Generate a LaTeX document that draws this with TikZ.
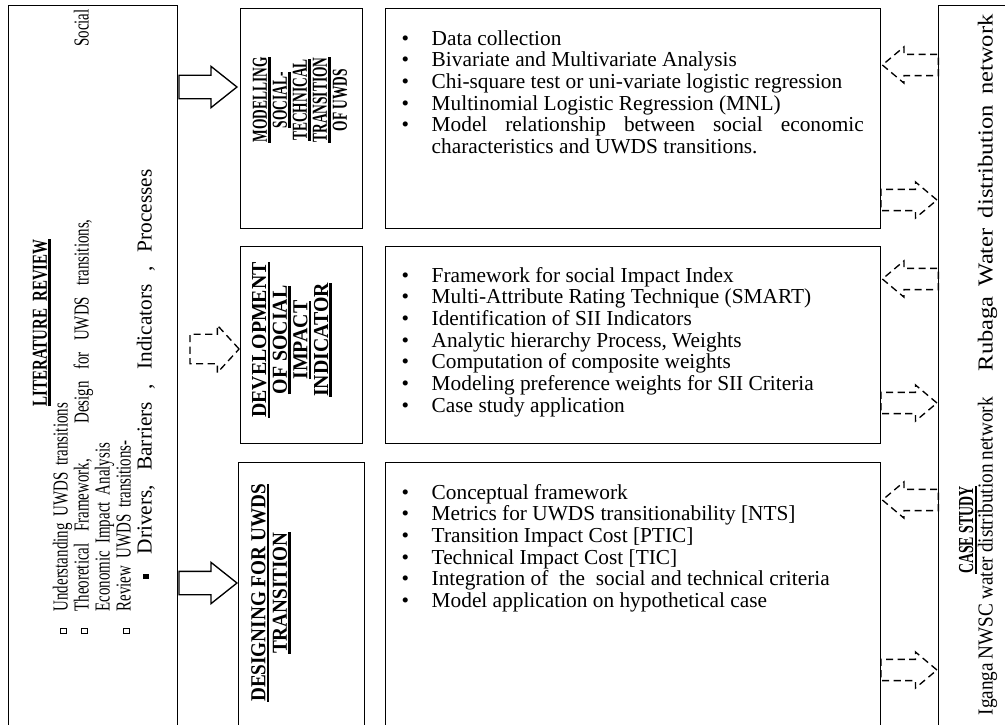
\documentclass[tikz,border=0pt]{standalone}
\usepackage{fontspec}
\setmainfont{Liberation Serif}
\newfontfamily\modfont[FakeStretch=0.63]{Liberation Serif}
\newfontfamily\devfont[FakeStretch=0.93]{Liberation Serif}
\newfontfamily\desfont[FakeStretch=0.9]{Liberation Serif}
\newfontfamily\litfont[FakeStretch=0.7]{Liberation Serif}
\newfontfamily\casefont[FakeStretch=0.9]{Liberation Serif}
\newfontfamily\rubfont[FakeStretch=1.15]{Liberation Serif}
\newfontfamily\ttlfont[FakeStretch=0.65]{Liberation Serif}
\usetikzlibrary{shapes.arrows}
\hyphenpenalty=10000
\exhyphenpenalty=10000

\newcommand\px{0.5625pt}
% heavy underline bar
\newcommand\ulbar[1]{\setbox0=\hbox{#1}\leavevmode\rlap{\rule[-2.2pt]{\wd0}{1.4pt}}\box0}
\newcommand\sqb{\raisebox{1pt}{\setlength\fboxsep{0pt}\setlength\fboxrule{0.5pt}\fbox{\rule{0pt}{2.6pt}\hspace{2.6pt}}}}
\newcommand\sqfill{\raisebox{1.6pt}{\rule{3pt}{3pt}}}
\newcommand\litem{\par\noindent\hangindent=16.9pt\hangafter=1\makebox[16.9pt][l]{\textbullet}\strut}

\begin{document}
\begin{tikzpicture}[x=0.5625pt, y=-0.5625pt, line width=0.75pt,
  boxframe/.style={draw, inner sep=0pt, anchor=north west},
  items/.style={anchor=north west, inner sep=0pt, text width=259.9pt, align=justify,
    font=\fontsize{12pt}{12.2pt}\selectfont},
  lbl/.style={rotate=90, inner sep=0pt, align=center},
  fatarrow/.style={single arrow, draw, inner xsep=0pt, inner ysep=6.19pt,
    single arrow head extend=5.06pt, minimum height=32.6pt, single arrow tip angle=77},
  dasharrow/.style={single arrow, draw, dash pattern=on 4pt off 2.5pt, inner xsep=0pt,
    inner ysep=5.6pt, single arrow head extend=4.2pt, minimum height=31.5pt,
    single arrow tip angle=80}]
\useasboundingbox (0,0) rectangle (1005,724);
\clip (0,0) rectangle (1005,724);

% boxes
\node[boxframe, minimum width=169*\px, minimum height=735*\px] (lit) at (8,5) {};
\node[boxframe, minimum width=122*\px, minimum height=220*\px] (modlbl) at (240,8) {};
\node[boxframe, minimum width=122*\px, minimum height=197*\px] (devlbl) at (240,246) {};
\node[boxframe, minimum width=126*\px, minimum height=280*\px] (deslbl) at (238,462) {};
\node[boxframe, minimum width=495*\px, minimum height=220*\px] (modlist) at (385,8) {};
\node[boxframe, minimum width=495*\px, minimum height=197*\px] (devlist) at (385,246) {};
\node[boxframe, minimum width=495*\px, minimum height=280*\px] (deslist) at (385,462) {};
\node[boxframe, minimum width=80*\px, minimum height=735*\px] (case) at (938,5) {};

% literature review
\node[rotate=90, anchor=north west, inner sep=0pt, text width=356pt,
  font=\fontsize{12pt}{11.8pt}\litfont] (littxt) at (32,640) {%
  {\centering\bfseries\ulbar{LITERATURE REVIEW}\par}
  \hspace*{3pt}\makebox[12.75pt][l]{\sqb}Understanding UWDS transitions\par
  \hspace*{3pt}\makebox[12.75pt][l]{\sqb}\hbox to 338.6pt{Theoretical\hspace{6.5pt}Framework,\hspace{20pt}Design\hspace{6.5pt}for\hspace{6.5pt}UWDS\hspace{6.5pt}transitions,\hfil Social}\par
  \hspace*{15.75pt}Economic Impact Analysis\par
  \hspace*{3pt}\makebox[12.75pt][l]{\sqb}Review UWDS transitions-\par
  \hspace*{34pt}\makebox[13.8pt][l]{\sqfill}\hbox to 216.6pt{\rmfamily\spaceskip=0pt Drivers, Barriers , Indicators , Processes}\par};

% stage titles
\node[lbl, font=\fontsize{12pt}{11.25pt}\modfont\bfseries] (modtxt) at (300,100)
  {\ulbar{MODELLING}\\\ulbar{SOCIAL-}\\\ulbar{TECHNICAL}\\\ulbar{TRANSITION}\\OF UWDS};
\node[lbl, font=\fontsize{12pt}{11.6pt}\devfont\bfseries] (devtxt) at (292,340)
  {\ulbar{DEVELOPMENT}\\\ulbar{OF SOCIAL}\\\ulbar{IMPACT}\\\ulbar{INDICATOR}};
\node[lbl, font=\fontsize{12pt}{12pt}\desfont\bfseries] (destxt) at (271,593)
  {\ulbar{DESIGNING FOR UWDS}\\\ulbar{TRANSITION}};

% stage contents
\node[items] (modpts) at (401,22.8) {%
  \litem Data collection
  \litem Bivariate and Multivariate Analysis
  \litem Chi-square test or uni-variate logistic regression
  \litem Multinomial Logistic Regression (MNL)
  \litem Model relationship between social economic\linebreak characteristics and UWDS transitions.\par};
\node[items] (devpts) at (401,259.8) {%
  \litem Framework for social Impact Index
  \litem Multi-Attribute Rating Technique (SMART)
  \litem Identification of SII Indicators
  \litem Analytic hierarchy Process, Weights
  \litem Computation of composite weights
  \litem Modeling preference weights for SII Criteria
  \litem Case study application\par};
\node[items] (despts) at (401,476.8) {%
  \litem Conceptual framework
  \litem Metrics for UWDS transitionability [NTS]
  \litem Transition Impact Cost [PTIC]
  \litem Technical Impact Cost [TIC]
  \litem Integration of\ \ the\ \ social and technical criteria
  \litem Model application on hypothetical case\par};

% case study
\node[lbl, font=\fontsize{12pt}{12pt}\ttlfont\bfseries] (casettl) at (968,530) {\ulbar{CASE STUDY}};
\node[lbl, anchor=south west, font=\fontsize{12pt}{12pt}\casefont] (casenet) at (998,716)
  {\hbox to 178.9pt{Iganga NWSC water distribution network}\hspace{14.6pt}\hbox to 200.8pt{\rubfont Rubaga Water distribution network}};

% arrows from the review
\node[fatarrow, anchor=tail] (a1) at (lit.east |- 0,87) {};
\node[single arrow, draw, dash pattern=on 4pt off 2.5pt, inner xsep=0pt, inner ysep=7.9pt,
  single arrow head extend=5.06pt, minimum height=27.6pt,
  single arrow tip angle=95, anchor=tip] (a2) at (devlbl.west |- 0,349) {};
\node[fatarrow, anchor=tail] (a3) at (lit.east |- 0,583) {};

% arrows to and from the case study
\node[dasharrow, shape border rotate=180, anchor=tip] (b1) at (modlist.east |- 0,65) {};
\node[dasharrow, anchor=tip] (b2) at (case.west |- 0,200) {};
\node[dasharrow, shape border rotate=180, anchor=tip] (b3) at (devlist.east |- 0,279) {};
\node[dasharrow, anchor=tip] (b4) at (case.west |- 0,403) {};
\node[dasharrow, shape border rotate=180, anchor=tip] (b5) at (deslist.east |- 0,500) {};
\node[dasharrow, anchor=tip] (b6) at (case.west |- 0,670) {};
\end{tikzpicture}
\end{document}
